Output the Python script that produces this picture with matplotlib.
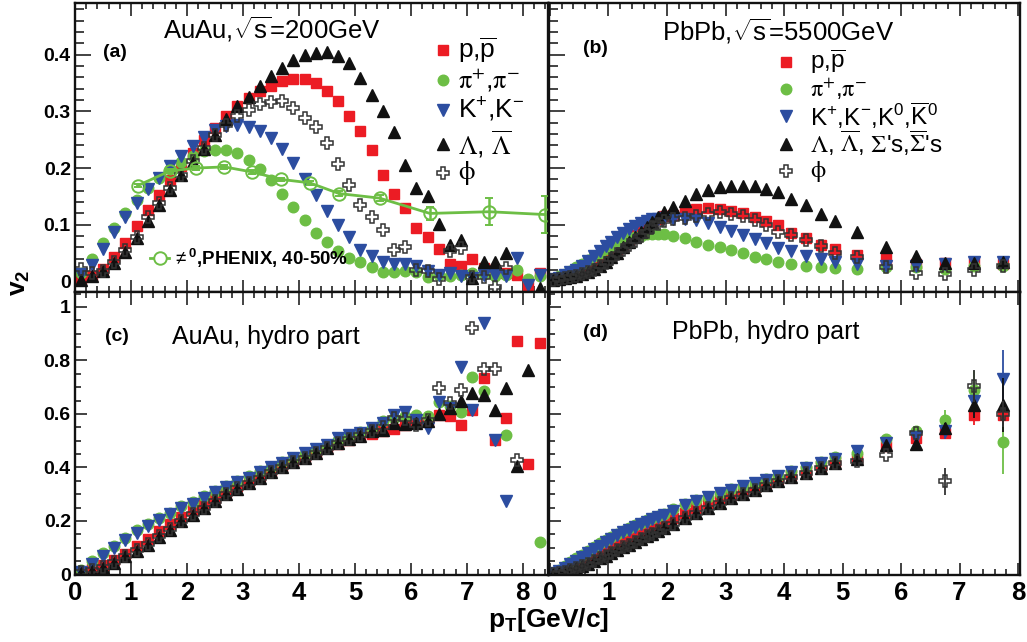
import numpy as np
import matplotlib
matplotlib.use("Agg")
import matplotlib.pyplot as plt
from matplotlib.ticker import MultipleLocator, FuncFormatter

plt.rcParams['font.family'] = ['Liberation Sans', 'DejaVu Sans']
plt.rcParams['mathtext.fontset'] = 'custom'
plt.rcParams['mathtext.rm'] = 'Liberation Sans'
plt.rcParams['mathtext.it'] = 'Liberation Sans:italic'
plt.rcParams['mathtext.bf'] = 'Liberation Sans:bold'
plt.rcParams['mathtext.sf'] = 'Liberation Sans'

nan = np.nan

# ---------------- data ----------------
pt_auau = [0.1, 0.3, 0.5, 0.7, 0.9, 1.1, 1.3, 1.5, 1.7, 1.9,
           2.1, 2.3, 2.5, 2.7, 2.9, 3.1, 3.3, 3.5, 3.7, 3.9,
           4.1, 4.3, 4.5, 4.7, 4.9, 5.1, 5.3, 5.5, 5.7, 5.9,
           6.1, 6.3, 6.5, 6.7, 6.9, 7.1, 7.3, 7.5, 7.7, 7.9,
           8.1, 8.3]

v2_auau_p = [0.004, 0.010, 0.022, 0.044, 0.068, 0.097, 0.126, 0.153, 0.179, 0.203,
             0.226, 0.250, 0.270, 0.291, 0.309, 0.323, 0.335, 0.345, 0.354, 0.357,
             0.357, 0.350, 0.335, 0.318, 0.292, 0.266, 0.231, 0.188, 0.155, 0.129,
             0.094, 0.079, 0.057, 0.031, 0.027, 0.040, 0.024, 0.021, 0.015, 0.012,
             -0.006, 0.015]
v2_auau_pi = [0.015, 0.039, 0.068, 0.095, 0.120, 0.144, 0.165, 0.183, 0.198, 0.210,
              0.222, 0.230, 0.232, 0.231, 0.226, 0.215, 0.198, 0.179, 0.155, 0.131,
              0.108, 0.085, 0.069, 0.053, 0.041, 0.034, 0.025, 0.016, 0.016, 0.018,
              0.016, 0.008, 0.012, 0.009, 0.012, 0.015, 0.013, 0.010, 0.012, 0.020,
              0.004, 0.009]
v2_auau_K = [0.014, 0.029, 0.058, 0.087, 0.113, 0.139, 0.163, 0.183, 0.203, 0.222,
             0.239, 0.254, 0.267, 0.275, 0.276, 0.272, 0.265, 0.253, 0.234, 0.209,
             0.181, 0.152, 0.125, 0.100, 0.078, 0.056, 0.045, 0.035, 0.030, 0.031,
             0.027, 0.018, 0.012, 0.015, 0.010, 0.006, 0.012, 0.012, 0.009, 0.041,
             -0.006, 0.012]
v2_auau_L = [0.002, 0.009, 0.018, 0.033, 0.052, 0.076, 0.107, 0.135, 0.162, 0.187,
             0.211, 0.233, 0.258, 0.287, 0.309, 0.326, 0.345, 0.362, 0.376, 0.391,
             0.400, 0.403, 0.404, 0.398, 0.386, 0.359, 0.329, 0.300, 0.263, 0.206,
             0.165, 0.151, 0.102, 0.065, 0.074, 0.006, 0.034, 0.035, 0.051, nan,
             nan, -0.012]
v2_auau_phi = [0.022, 0.015, 0.018, 0.035, 0.056, 0.079, 0.113, 0.138, 0.165, 0.188,
               0.213, 0.235, 0.258, 0.276, 0.291, 0.303, 0.313, 0.317, 0.319, 0.306,
               0.289, 0.272, 0.244, 0.208, 0.170, 0.135, 0.114, 0.090, 0.055, 0.060,
               0.021, 0.019, 0.004, 0.053, 0.059, 0.008, 0.008, -0.009, 0.024, nan,
               nan, nan]

pt_phenix = [1.12, 1.70, 2.16, 2.67, 3.17, 3.68, 4.19, 4.72, 5.44, 6.34, 7.40, 8.40]
v2_phenix = [0.169, 0.195, 0.200, 0.202, 0.193, 0.180, 0.174, 0.155, 0.147, 0.120, 0.123, 0.118]
err_phenix = [0.003, 0.003, 0.003, 0.003, 0.003, 0.003, 0.004, 0.004, 0.005, 0.012, 0.024, 0.032]

pt_pbpb = [0.05, 0.15, 0.25, 0.35, 0.45, 0.55, 0.65, 0.75, 0.85, 0.95,
           1.05, 1.15, 1.25, 1.35, 1.45, 1.55, 1.65, 1.75, 1.85, 1.95,
           2.1, 2.3, 2.5, 2.7, 2.9, 3.1, 3.3, 3.5, 3.7, 3.9,
           4.125, 4.375, 4.625, 4.875,
           5.25, 5.75, 6.25, 6.75, 7.25, 7.75]

v2_pbpb_p = [0.003, 0.005, 0.007, 0.010, 0.013, 0.017, 0.022, 0.028, 0.035, 0.042,
             0.050, 0.058, 0.066, 0.074, 0.082, 0.090, 0.098, 0.105, 0.111, 0.116,
             0.118, 0.124, 0.127, 0.129, 0.128, 0.125, 0.121, 0.114, 0.106, 0.099,
             0.086, 0.077, 0.065, 0.057,
             0.047, 0.039, 0.031, 0.032, 0.032, 0.030]
v2_pbpb_pi = [0.005, 0.009, 0.014, 0.019, 0.025, 0.031, 0.038, 0.045, 0.051, 0.057,
              0.063, 0.068, 0.072, 0.076, 0.079, 0.081, 0.083, 0.084, 0.084, 0.083,
              0.081, 0.077, 0.070, 0.065, 0.060, 0.056, 0.050, 0.044, 0.040, 0.034,
              0.031, 0.028, 0.025, 0.023,
              0.022, 0.026, 0.025, 0.022, 0.027, 0.028]
v2_pbpb_K = [0.004, 0.007, 0.012, 0.016, 0.020, 0.027, 0.036, 0.045, 0.053, 0.062,
             0.070, 0.078, 0.085, 0.093, 0.098, 0.103, 0.107, 0.110, 0.111, 0.112,
             0.111, 0.110, 0.108, 0.103, 0.096, 0.089, 0.082, 0.075, 0.067, 0.059,
             0.053, 0.045, 0.040, 0.035,
             0.030, 0.027, 0.028, 0.030, 0.034, 0.035]
v2_pbpb_L = [0.003, 0.004, 0.006, 0.008, 0.010, 0.013, 0.017, 0.022, 0.028, 0.035,
             0.043, 0.051, 0.060, 0.069, 0.078, 0.087, 0.096, 0.105, 0.113, 0.122,
             0.131, 0.142, 0.155, 0.161, 0.166, 0.169, 0.169, 0.168, 0.163, 0.157,
             0.145, 0.134, 0.119, 0.107,
             0.087, 0.061, 0.045, 0.032, 0.032, 0.035]
v2_pbpb_phi = [0.003, 0.004, 0.006, 0.008, 0.010, 0.013, 0.017, 0.021, 0.027, 0.033,
               0.040, 0.048, 0.056, 0.064, 0.072, 0.080, 0.088, 0.096, 0.102, 0.107,
               0.110, 0.112, 0.115, 0.119, 0.122, 0.119, 0.116, 0.109, 0.100, 0.088,
               0.082, 0.074, 0.062, 0.050,
               0.043, 0.025, 0.015, 0.014, 0.021, 0.027]

hyd_auau_p = [0.006, 0.019, 0.034, 0.056, 0.078, 0.106, 0.133, 0.162, 0.187, 0.215,
              0.240, 0.265, 0.286, 0.307, 0.330, 0.348, 0.367, 0.385, 0.404, 0.423,
              0.441, 0.456, 0.473, 0.489, 0.504, 0.516, 0.526, 0.535, 0.545, 0.557,
              0.566, 0.575, 0.597, 0.591, 0.557, 0.616, 0.736, 0.504, 0.585, 0.874,
              0.413, 0.864]
hyd_auau_pi = [0.016, 0.050, 0.081, 0.106, 0.137, 0.165, 0.187, 0.211, 0.230, 0.255,
               0.270, 0.292, 0.311, 0.330, 0.351, 0.367, 0.385, 0.402, 0.420, 0.435,
               0.451, 0.469, 0.485, 0.501, 0.516, 0.531, 0.547, 0.572, 0.585, 0.591,
               0.597, 0.593, 0.643, 0.630, 0.606, 0.738, 0.684, nan, 0.522, nan,
               nan, 0.120]
hyd_auau_K = [0.010, 0.040, 0.068, 0.098, 0.128, 0.155, 0.180, 0.203, 0.225, 0.248,
              0.265, 0.287, 0.308, 0.327, 0.345, 0.362, 0.382, 0.400, 0.418, 0.435,
              0.455, 0.468, 0.485, 0.510, 0.520, 0.530, 0.548, 0.566, 0.597, 0.607,
              0.578, 0.547, 0.644, 0.622, 0.777, 0.616, 0.939, 0.504, 0.276, nan,
              nan, nan]
hyd_auau_L = [0.006, 0.012, 0.025, 0.044, 0.068, 0.087, 0.112, 0.140, 0.168, 0.199,
              0.224, 0.249, 0.274, 0.300, 0.320, 0.342, 0.361, 0.382, 0.400, 0.419,
              0.435, 0.454, 0.473, 0.491, 0.506, 0.516, 0.535, 0.541, 0.566, 0.563,
              0.565, 0.575, 0.600, 0.622, 0.649, 0.678, 0.672, 0.616, 0.697, 0.404,
              0.765, nan]
hyd_auau_phi = [0.010, 0.015, 0.027, 0.045, 0.070, 0.090, 0.115, 0.143, 0.170, 0.200,
                0.226, 0.250, 0.276, 0.300, 0.322, 0.343, 0.362, 0.383, 0.402, 0.420,
                0.437, 0.455, 0.474, 0.492, 0.506, 0.520, 0.538, 0.550, 0.585, 0.582,
                0.560, 0.578, 0.697, 0.640, 0.690, 0.920, 0.769, 0.769, nan, 0.429,
                nan, nan]

hyd_pbpb_p = [0.003, 0.009, 0.016, 0.025, 0.035, 0.045, 0.056, 0.067, 0.079, 0.090,
              0.101, 0.112, 0.123, 0.134, 0.145, 0.155, 0.165, 0.175, 0.185, 0.194,
              0.210, 0.228, 0.248, 0.266, 0.282, 0.298, 0.313, 0.328, 0.343, 0.357,
              0.373, 0.387, 0.404, 0.420,
              0.430, 0.479, 0.510, 0.529, 0.597, 0.597]
hyd_pbpb_pi = [0.005, 0.016, 0.030, 0.045, 0.060, 0.074, 0.088, 0.103, 0.117, 0.130,
               0.142, 0.153, 0.164, 0.174, 0.184, 0.193, 0.202, 0.211, 0.219, 0.227,
               0.243, 0.262, 0.277, 0.291, 0.304, 0.318, 0.331, 0.343, 0.356, 0.370,
               0.385, 0.400, 0.420, 0.440,
               0.455, 0.505, 0.535, 0.576, 0.690, 0.497]
hyd_pbpb_K = [0.004, 0.013, 0.025, 0.038, 0.052, 0.066, 0.080, 0.094, 0.108, 0.121,
              0.134, 0.146, 0.157, 0.168, 0.178, 0.188, 0.197, 0.206, 0.214, 0.222,
              0.238, 0.258, 0.275, 0.290, 0.303, 0.316, 0.330, 0.342, 0.355, 0.370,
              0.383, 0.397, 0.415, 0.432,
              0.460, 0.490, 0.515, 0.535, 0.647, 0.730]
hyd_pbpb_L = [0.002, 0.006, 0.011, 0.017, 0.024, 0.032, 0.041, 0.050, 0.060, 0.070,
              0.080, 0.091, 0.101, 0.112, 0.122, 0.133, 0.143, 0.153, 0.163, 0.173,
              0.190, 0.210, 0.230, 0.250, 0.268, 0.285, 0.300, 0.317, 0.333, 0.348,
              0.365, 0.380, 0.398, 0.415,
              0.430, 0.485, 0.489, 0.547, 0.634, 0.634]
hyd_pbpb_phi = [0.002, 0.006, 0.011, 0.017, 0.024, 0.032, 0.041, 0.050, 0.060, 0.070,
                0.080, 0.091, 0.101, 0.112, 0.122, 0.133, 0.143, 0.153, 0.163, 0.173,
                0.190, 0.210, 0.230, 0.250, 0.268, 0.285, 0.300, 0.317, 0.333, 0.348,
                0.365, 0.380, 0.398, 0.415,
                0.425, 0.445, 0.529, 0.348, 0.705, 0.600]
# errors of the last three PbPb hydro points (6.75, 7.25, 7.75 GeV/c)
err_tail_p = [0.02, 0.04, 0.03]
err_tail_pi = [0.04, 0.07, 0.12]
err_tail_K = [0.03, 0.05, 0.11]
err_tail_L = [0.02, 0.05, 0.10]
err_tail_phi = [0.05, 0.06, 0.05]

legend_a = [r"p,$\overline{\mathrm{p}}$", r"$\mathrm{\pi}^{+}$,$\mathrm{\pi}^{-}$",
            r"K$^{+}$,K$^{-}$", r"$\Lambda$, $\overline{\Lambda}$", r"$\mathrm{\phi}$"]
legend_b = [r"p,$\overline{\mathrm{p}}$", r"$\mathrm{\pi}^{+}$,$\mathrm{\pi}^{-}$",
            r"K$^{+}$,K$^{-}$,K$^{0}$,$\overline{\mathrm{K}}^{0}$",
            r"$\Lambda$, $\overline{\Lambda}$, $\Sigma$'s,$\overline{\Sigma}$'s", r"$\mathrm{\phi}$"]
greek_label = [False, True, False, True, True]

# ---------------- styles ----------------
RED = '#EC1C24'
GREEN = '#6DBE45'
BLUE = '#2C4DA0'
BLACK = '#111111'
styles = [
    dict(marker='s', ms=7.3, color=RED, mec=RED, mfc=RED),
    dict(marker='o', ms=7.6, color=GREEN, mec=GREEN, mfc=GREEN),
    dict(marker='v', ms=8.0, color=BLUE, mec=BLUE, mfc=BLUE),
    dict(marker='^', ms=8.0, color=BLACK, mec=BLACK, mfc=BLACK),
    dict(marker='P', ms=9.0, color='#333333', mec='#333333', mfc='none', mew=1.1),
]

W, H = 1027, 642
fig = plt.figure(figsize=(W / 100, H / 100), dpi=100)


def px_axes(l, r, t, b):
    return fig.add_axes([l / W, 1 - b / H, (r - l) / W, (b - t) / H])


axA = px_axes(75, 548, 3, 291.7)
axB = px_axes(549, 1020, 3, 291.7)
axC = px_axes(75, 548, 291.7, 574.5)
axD = px_axes(549, 1020, 291.7, 574.5)

fmt_y = FuncFormatter(lambda v, p: '0' if abs(v) < 1e-9 else ('%g' % round(v, 3)))
fmt_x = FuncFormatter(lambda v, p: '%d' % round(v))


def style(ax, xlim, ylim, ymaj, ymin, ylen, show_x, show_y):
    ax.set_xlim(*xlim)
    ax.set_ylim(*ylim)
    ax.xaxis.set_major_locator(MultipleLocator(1))
    ax.xaxis.set_minor_locator(MultipleLocator(0.2))
    ax.yaxis.set_major_locator(MultipleLocator(ymaj))
    ax.yaxis.set_minor_locator(MultipleLocator(ymin))
    ax.tick_params(which='both', direction='in', top=True, right=False,
                   width=1.2, color='#222222')
    ax.tick_params(axis='x', which='major', length=9, pad=5)
    ax.tick_params(axis='x', which='minor', length=4.5)
    ax.tick_params(axis='y', which='major', length=ylen[0], pad=3)
    ax.tick_params(axis='y', which='minor', length=ylen[1])
    for s in ax.spines.values():
        s.set_linewidth(1.7)
        s.set_color('#111111')
    ax.yaxis.set_major_formatter(fmt_y)
    ax.xaxis.set_major_formatter(fmt_x)
    if not show_x:
        ax.tick_params(axis='x', labelbottom=False)
    if not show_y:
        ax.tick_params(axis='y', labelleft=False)
    for lab in ax.get_yticklabels():
        lab.set_fontweight('bold')
        lab.set_fontsize(14)
    for lab in ax.get_xticklabels():
        lab.set_fontweight('bold')
        lab.set_fontsize(18.5)


style(axA, (0, 8.45), (-0.018, 0.491), 0.1, 0.02, (11.5, 6.5), False, True)
style(axB, (-0.017, 8.034), (-0.018, 0.491), 0.1, 0.02, (11.5, 6.5), False, False)
style(axC, (0, 8.45), (0.0, 1.057), 0.2, 0.05, (8.6, 4.3), True, True)
style(axD, (-0.017, 8.034), (0.0, 1.057), 0.2, 0.05, (8.6, 4.3), True, False)


def draw(ax, x, series):
    for y, st in zip(series, styles):
        ax.plot(x, y, ls='none', **st)


draw(axA, pt_auau, [v2_auau_p, v2_auau_pi, v2_auau_K, v2_auau_L, v2_auau_phi])
draw(axB, pt_pbpb, [v2_pbpb_p, v2_pbpb_pi, v2_pbpb_K, v2_pbpb_L, v2_pbpb_phi])
draw(axC, pt_auau, [hyd_auau_p, hyd_auau_pi, hyd_auau_K, hyd_auau_L, hyd_auau_phi])

# panel (d) with error bars on the last points
for y, st, et in zip([hyd_pbpb_p, hyd_pbpb_pi, hyd_pbpb_K, hyd_pbpb_L, hyd_pbpb_phi],
                     styles, [err_tail_p, err_tail_pi, err_tail_K, err_tail_L, err_tail_phi]):
    n = len(et)
    axD.errorbar(pt_pbpb[-n:], y[-n:], yerr=et, fmt='none', ecolor=st['mec'],
                 elinewidth=1.3, capsize=0)
    axD.plot(pt_pbpb, y, ls='none', **st)

# PHENIX pi0 reference
axA.errorbar(pt_phenix, v2_phenix, yerr=err_phenix, color=GREEN, lw=2.0,
             marker='o', ms=9, mfc='none', mec=GREEN, mew=1.4,
             elinewidth=1.8, capsize=3, capthick=1.8, zorder=5)

# ---------------- legends ----------------


def manual_legend(ax, labels, mx, tx, ys, size):
    for lab, st, yy, gr in zip(labels, styles, ys, greek_label):
        ax.plot([mx], [yy], transform=ax.transAxes, ls='none', clip_on=False, **st)
        kw = dict(math_fontfamily='stix') if gr else {}
        ax.text(tx, yy, lab, transform=ax.transAxes, fontsize=size,
                va='center', ha='left', **kw)


manual_legend(axA, legend_a, 0.778, 0.81, [0.837, 0.733, 0.63, 0.51, 0.411], 19)
manual_legend(axB, legend_b, 0.503, 0.554, [0.796, 0.702, 0.61, 0.512, 0.418], 17.5)

# PHENIX legend entry
axA.plot([0.159, 0.199], [0.116, 0.116], transform=axA.transAxes, color=GREEN, lw=2.0)
axA.plot([0.179], [0.116], transform=axA.transAxes, marker='o', ms=9, mfc='white',
         mec=GREEN, mew=1.4, ls='none')
axA.text(0.205, 0.116, r"$\neq^{\mathbf{0}}$,PHENIX, 40-50%", transform=axA.transAxes,
         fontsize=13.5, fontweight='bold', va='center', ha='left')

# ---------------- panel texts ----------------
axA.text(0.059, 0.827, "(a)", transform=axA.transAxes, fontsize=14, fontweight='bold', va='center')
axA.text(0.186, 0.908, r"AuAu,$\sqrt{\mathrm{s}}$=200GeV", transform=axA.transAxes,
         fontsize=18.5, va='center')
axB.text(0.072, 0.844, "(b)", transform=axB.transAxes, fontsize=14, fontweight='bold', va='center')
axB.text(0.24, 0.902, r"PbPb,$\sqrt{\mathrm{s}}$=5500GeV", transform=axB.transAxes,
         fontsize=18.5, va='center')
axC.text(0.063, 0.84, "(c)", transform=axC.transAxes, fontsize=14, fontweight='bold', va='center')
axC.text(0.205, 0.84, "AuAu, hydro part", transform=axC.transAxes, fontsize=18, va='center')
axD.text(0.072, 0.857, "(d)", transform=axD.transAxes, fontsize=14, fontweight='bold', va='center')
axD.text(0.261, 0.857, "PbPb, hydro part", transform=axD.transAxes, fontsize=18, va='center')

fig.text(20 / W, 1 - 283 / H, r"v$_{\mathbf{2}}$", rotation=90, fontsize=19,
         fontweight='bold', ha='center', va='center')
fig.text(549 / W, 1 - 620 / H, r"p$_{\mathbf{T}}$[GeV/c]", fontsize=19,
         fontweight='bold', ha='center', va='center')

fig.savefig('out.png', dpi=100)
